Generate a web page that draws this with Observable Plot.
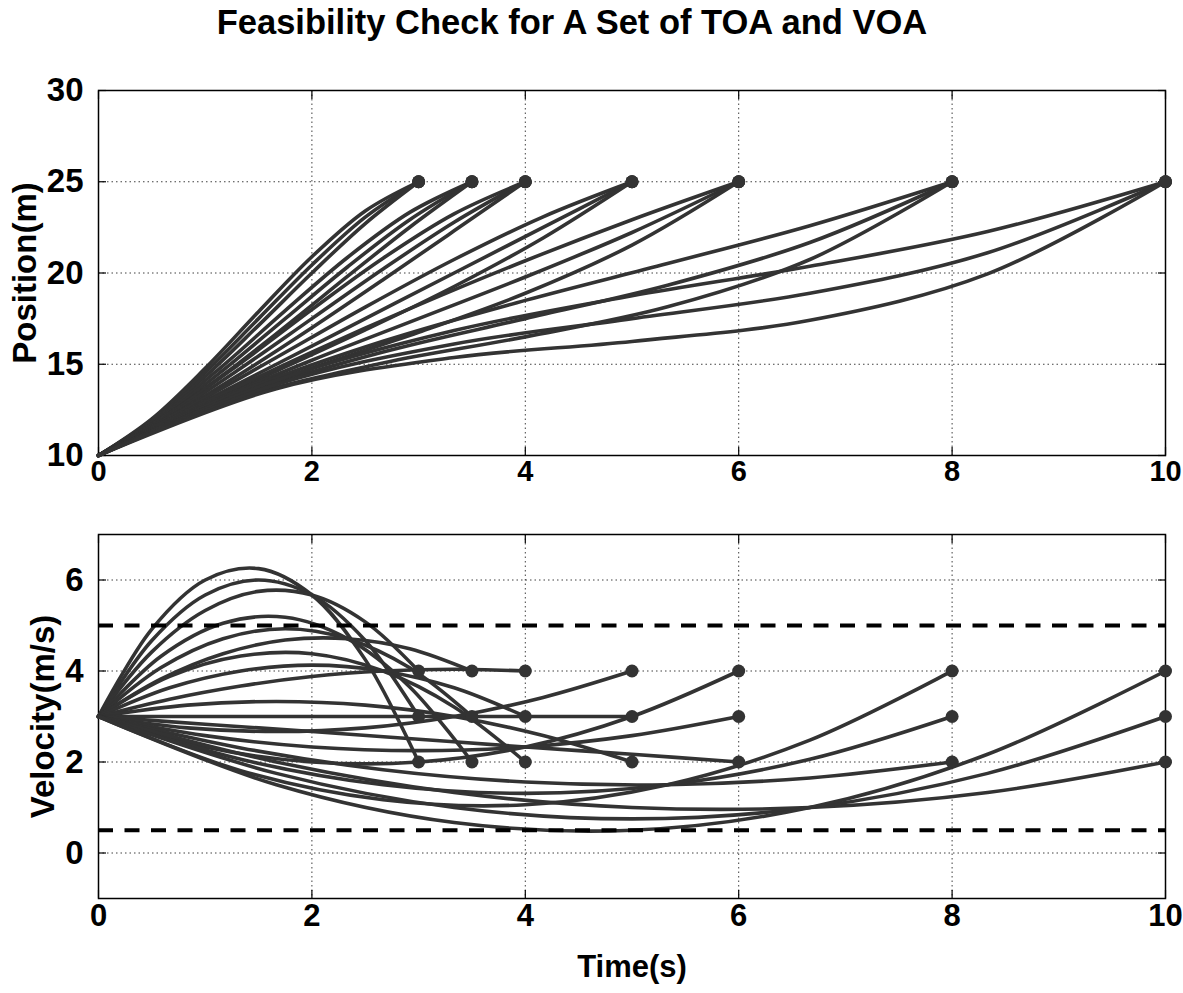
<!DOCTYPE html>
<html><head><meta charset="utf-8">
<script src="https://cdn.jsdelivr.net/npm/d3@7"></script>
<script src="https://cdn.jsdelivr.net/npm/@observablehq/plot@0.6"></script>
<style>
body{margin:0;background:#fff;width:1183px;height:993px;position:relative;overflow:hidden;font-family:"Liberation Sans",Arial,sans-serif;}
#title{position:absolute;left:0;width:1144px;top:3px;text-align:center;font-weight:bold;font-size:34.5px;color:#000;white-space:nowrap;}
#top{position:absolute;left:0;top:60px;}
#bottom{position:absolute;left:0;top:500px;}
</style></head><body>
<div id="title">Feasibility Check for A Set of TOA and VOA</div>
<div id="top"></div><div id="bottom"></div>
<script>
// Times of arrival (TOA, s) and velocities of arrival (VOA, m/s)
const toa = [3, 3.5, 4, 5, 6, 8, 10];
const voa = [2, 3, 4];
const xTicks = [0, 2, 4, 6, 8, 10];
const posTicks = [10, 15, 20, 25, 30];
const velTicks = [0, 2, 4, 6];
const velLimits = [0.5, 5];

// sample times along each trajectory (one array per TOA)
const times3   = [0, 0.5, 1, 1.5, 2, 2.5, 3];
const times3_5 = [0, 0.583, 1.167, 1.75, 2.333, 2.917, 3.5];
const times4   = [0, 0.667, 1.333, 2, 2.667, 3.333, 4];
const times5   = [0, 0.833, 1.667, 2.5, 3.333, 4.167, 5];
const times6   = [0, 1, 2, 3, 4, 5, 6];
const times8   = [0, 1.333, 2.667, 4, 5.333, 6.667, 8];
const times10  = [0, 1.667, 3.333, 5, 6.667, 8.333, 10];

// position (m) read at those times, one row per VOA (2, 3, 4)
const pos3   = [[10,12.01,14.78,17.88,20.89,23.40,25],[10,11.94,14.56,17.5,20.44,23.06,25],[10,11.88,14.33,17.13,20.0,22.71,25]];
const pos3_5 = [[10,12.16,14.93,17.94,20.85,23.32,25],[10,12.08,14.67,17.5,20.33,22.92,25],[10,12.0,14.41,17.06,19.81,22.51,25]];
const pos4   = [[10,12.31,15.07,18.0,20.81,23.24,25],[10,12.22,14.78,17.5,20.22,22.78,25],[10,12.13,14.48,17.0,19.63,22.31,25]];
const pos5   = [[10,12.62,15.37,18.13,20.74,23.08,25],[10,12.5,15,17.5,20,22.5,25],[10,12.38,14.63,16.88,19.26,21.92,25]];
const pos6   = [[10,12.92,15.67,18.25,20.67,22.92,25],[10,12.78,15.22,17.5,19.78,22.22,25],[10,12.64,14.78,16.75,18.89,21.53,25]];
const pos8   = [[10,13.52,16.26,18.5,20.52,22.59,25],[10,13.33,15.67,17.5,19.33,21.67,25],[10,13.15,15.07,16.5,18.15,20.74,25]];
const pos10  = [[10,14.12,16.85,18.75,20.37,22.27,25],[10,13.89,16.11,17.5,18.89,21.11,25],[10,13.66,15.37,16.25,17.41,19.95,25]];

// velocity (m/s) read at those times, one row per VOA (2, 3, 4)
const vel3   = [[3,4.92,6.0,6.25,5.67,4.25,2],[3,4.67,5.67,6.0,5.67,4.67,3],[3,4.42,5.33,5.75,5.67,5.08,4]];
const vel3_5 = [[3,4.32,5.05,5.18,4.71,3.65,2],[3,4.07,4.71,4.93,4.71,4.07,3],[3,3.82,4.38,4.68,4.71,4.49,4]];
const vel4   = [[3,3.88,4.33,4.38,4.0,3.21,2],[3,3.63,4.0,4.13,4.0,3.63,3],[3,3.38,3.67,3.88,4.0,4.04,4]];
const vel5   = [[3,3.25,3.33,3.25,3.0,2.58,2],[3,3,3,3,3,3,3],[3,2.75,2.67,2.75,3.0,3.42,4]];
const vel6   = [[3,2.83,2.67,2.5,2.33,2.17,2],[3,2.58,2.33,2.25,2.33,2.58,3],[3,2.33,2.0,2.0,2.33,3.0,4]];
const vel8   = [[3,2.31,1.83,1.56,1.5,1.65,2],[3,2.06,1.5,1.31,1.5,2.06,3],[3,1.81,1.17,1.06,1.5,2.48,4]];
const vel10  = [[3,2.0,1.33,1.0,1.0,1.33,2],[3,1.75,1.0,0.75,1.0,1.75,3],[3,1.5,0.67,0.5,1.0,2.17,4]];

const timeSets = [times3, times3_5, times4, times5, times6, times8, times10];
const posSets = [pos3, pos3_5, pos4, pos5, pos6, pos8, pos10];
const velSets = [vel3, vel3_5, vel4, vel5, vel6, vel8, vel10];

const rows = [];
toa.forEach((T, i) => {
  voa.forEach((vf, j) => {
    timeSets[i].forEach((t, k) => {
      rows.push({id: `${T}-${vf}`, t, x: posSets[i][j][k], v: velSets[i][j][k]});
    });
  });
});
const ends = rows.filter((d, i) => i === rows.length - 1 || rows[i + 1].id !== d.id);

const INK = "#333";
const font = {fontFamily: "'Liberation Sans', Arial, sans-serif", fontSize: "29px", fontWeight: "bold", color: "#000", background: "transparent", overflow: "visible"};

function frameMarks(yTicks) {
  return [
    Plot.gridX(xTicks, {stroke: "#000", strokeOpacity: 0.75, strokeWidth: 1, strokeDasharray: "1.5,3"}),
    Plot.gridY(yTicks, {stroke: "#000", strokeOpacity: 0.75, strokeWidth: 1, strokeDasharray: "1.5,3"}),
    Plot.frame({stroke: "#000", strokeWidth: 1.5}),
    Plot.axisX(xTicks, {anchor: "bottom", tickSize: -8, tickFormat: () => "", label: null, strokeWidth: 1.2}),
    Plot.axisX(xTicks, {anchor: "top", tickSize: -8, tickFormat: () => "", label: null, strokeWidth: 1.2}),
    Plot.axisY(yTicks, {anchor: "left", tickSize: -8, tickFormat: () => "", label: null, strokeWidth: 1.2}),
    Plot.axisY(yTicks, {anchor: "right", tickSize: -8, tickFormat: () => "", label: null, strokeWidth: 1.2})
  ];
}

const topPlot = Plot.plot({
  width: 1183, height: 440,
  marginLeft: 98, marginRight: 18, marginTop: 30, marginBottom: 45,
  style: font,
  x: {domain: [0, 10]},
  y: {domain: [10, 30]},
  marks: [
    ...frameMarks(posTicks),
    Plot.line(rows, {x: "t", y: "x", z: "id", stroke: INK, strokeWidth: 3.6, curve: "catmull-rom"}),
    Plot.dot(ends, {x: "t", y: "x", r: 6.5, fill: INK, stroke: "none"}),
    Plot.axisX(xTicks, {anchor: "bottom", tickSize: 0, tickPadding: 5, label: null}),
    Plot.axisY(posTicks, {anchor: "left", tickSize: 0, tickPadding: 15, label: "Position(m)", labelAnchor: "center", labelArrow: "none", labelOffset: 86, fontSize: 33})
  ]
});
document.getElementById("top").appendChild(topPlot);

const bottomPlot = Plot.plot({
  width: 1183, height: 493,
  marginLeft: 98, marginRight: 18, marginTop: 34, marginBottom: 95,
  style: font,
  x: {domain: [0, 10]},
  y: {domain: [-1, 7]},
  marks: [
    ...frameMarks(velTicks),
    Plot.line(rows, {x: "t", y: "v", z: "id", stroke: INK, strokeWidth: 3.6, curve: "catmull-rom"}),
    Plot.dot(ends, {x: "t", y: "v", r: 6.5, fill: INK, stroke: "none"}),
    Plot.ruleY(velLimits, {stroke: "#000", strokeWidth: 4, strokeDasharray: "15,11.5"}),
    Plot.axisX(xTicks, {anchor: "bottom", tickSize: 0, tickPadding: 5, label: "Time(s)", labelAnchor: "center", labelArrow: "none", labelOffset: 78, fontSize: 31}),
    Plot.axisY(velTicks, {anchor: "left", tickSize: 0, tickPadding: 15, label: "Velocity(m/s)", labelAnchor: "center", labelArrow: "none", labelOffset: 68, fontSize: 33})
  ]
});
document.getElementById("bottom").appendChild(bottomPlot);
</script>
</body></html>
